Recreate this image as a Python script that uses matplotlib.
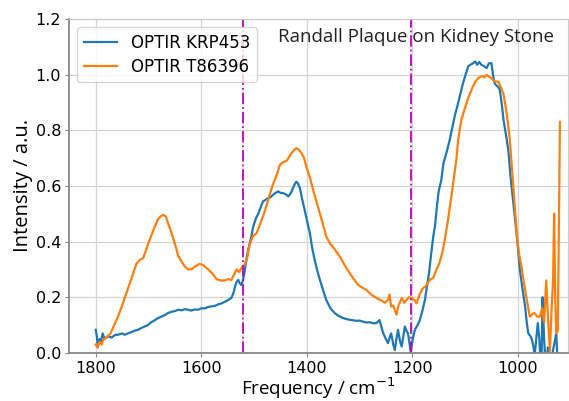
import matplotlib
matplotlib.use("Agg")
import matplotlib.pyplot as plt

# OPTIR spectra (frequency in cm^-1, intensity a.u.)
freq_krp = [1800, 1798, 1796, 1793, 1790, 1787, 1783, 1777, 1770, 1763, 1758, 1750, 1745, 1739,
            1732, 1726, 1720, 1713, 1707, 1701, 1695, 1690, 1682, 1676, 1670, 1663, 1656, 1650,
            1644, 1637, 1631, 1625, 1619, 1612, 1606, 1600, 1593, 1587, 1580, 1574, 1567, 1561,
            1555, 1549, 1543, 1539, 1536, 1533, 1530, 1527, 1524, 1521, 1518, 1514, 1511, 1505,
            1502, 1497, 1492, 1487, 1483, 1478, 1473, 1468, 1464, 1459, 1454, 1450, 1445, 1440,
            1435, 1430, 1426, 1423, 1420, 1417, 1413, 1409, 1404, 1399, 1394, 1390, 1385, 1380,
            1375, 1369, 1363, 1355, 1347, 1340, 1331, 1322, 1312, 1305, 1300, 1293, 1287, 1280,
            1274, 1268, 1262, 1258, 1255, 1250, 1246, 1242, 1240, 1236, 1233, 1230, 1227, 1223,
            1220, 1217, 1214, 1211, 1208, 1205, 1203, 1199, 1195, 1190, 1186, 1181, 1176, 1172,
            1168, 1164, 1160, 1157, 1153, 1150, 1145, 1141, 1135, 1129, 1124, 1119, 1114, 1110,
            1105, 1100, 1097, 1094, 1090, 1085, 1081, 1077, 1073, 1069, 1064, 1059, 1055, 1050,
            1047, 1044, 1040, 1037, 1034, 1030, 1027, 1022, 1018, 1014, 1009, 1005, 1001, 998,
            996, 991, 986, 983, 980, 976, 973, 970, 968, 965, 962, 959, 957, 955, 953, 950, 948,
            946, 943, 940, 937, 934, 931, 927, 924, 920]
int_krp = [0.083, 0.06, 0.02, 0.05, 0.04, 0.07, 0.05, 0.06, 0.055, 0.065, 0.065, 0.07, 0.065, 0.07,
           0.075, 0.08, 0.083, 0.09, 0.095, 0.10, 0.11, 0.115, 0.125, 0.13, 0.135, 0.143, 0.148, 0.15,
           0.155, 0.153, 0.157, 0.155, 0.152, 0.156, 0.155, 0.16, 0.16, 0.165, 0.167, 0.169, 0.175, 0.178,
           0.184, 0.19, 0.197, 0.215, 0.238, 0.255, 0.262, 0.25, 0.244, 0.26, 0.29, 0.34, 0.37, 0.418,
           0.45, 0.48, 0.50, 0.525, 0.544, 0.55, 0.556, 0.56, 0.568, 0.575, 0.58, 0.575, 0.574, 0.57,
           0.562, 0.575, 0.592, 0.605, 0.615, 0.61, 0.592, 0.555, 0.514, 0.47, 0.43, 0.38, 0.334, 0.295,
           0.262, 0.225, 0.19, 0.16, 0.143, 0.133, 0.125, 0.12, 0.117, 0.115, 0.116, 0.112, 0.109, 0.11,
           0.106, 0.107, 0.118, 0.09, 0.07, 0.05, 0.035, 0.06, 0.07, 0.03, 0.01, 0.05, 0.083, 0.04,
           0.023, 0.06, 0.095, 0.08, 0.07, 0.03, 0.005, 0.05, 0.083, 0.10, 0.115, 0.15, 0.19, 0.24,
           0.29, 0.358, 0.42, 0.454, 0.53, 0.58, 0.62, 0.68, 0.72, 0.765, 0.81, 0.855, 0.89, 0.921,
           0.96, 0.993, 1.01, 1.029, 1.035, 1.04, 1.047, 1.035, 1.045, 1.035, 1.03, 1.023, 1.04, 1.041,
           1.00, 0.969, 0.96, 0.955, 0.945, 0.89, 0.837, 0.78, 0.73, 0.64, 0.55, 0.48, 0.406, 0.34,
           0.298, 0.23, 0.166, 0.11, 0.07, 0.06, 0.047, 0.02, -0.01, 0.05, 0.107, 0.05, -0.03, -0.05, 0.2, 0.05, -0.02,
           -0.05, 0.02, -0.04, -0.02, 0.0, 0.03, 0.07, -0.05, -0.1]

freq_t86 = [1800, 1797, 1793, 1789, 1785, 1780, 1772, 1765, 1758, 1750, 1739, 1730, 1723, 1716,
            1710, 1701, 1691, 1682, 1676, 1672, 1667, 1663, 1658, 1653, 1648, 1644, 1638, 1631,
            1625, 1619, 1612, 1603, 1596, 1587, 1579, 1571, 1563, 1555, 1549, 1543, 1538, 1533,
            1528, 1524, 1518, 1513, 1508, 1502, 1495, 1489, 1483, 1476, 1470, 1465, 1461, 1455,
            1451, 1445, 1438, 1433, 1429, 1424, 1420, 1415, 1410, 1405, 1401, 1394, 1388, 1381,
            1375, 1369, 1363, 1355, 1350, 1337, 1325, 1312, 1303, 1295, 1287, 1278, 1268, 1260,
            1252, 1246, 1243, 1240, 1236, 1230, 1226, 1220, 1215, 1211, 1206, 1201, 1196, 1192,
            1186, 1180, 1174, 1167, 1160, 1154, 1149, 1143, 1138, 1132, 1126, 1121, 1116, 1113,
            1107, 1100, 1094, 1085, 1080, 1075, 1068, 1063, 1059, 1055, 1050, 1044, 1037, 1031,
            1027, 1023, 1019, 1015, 1012, 1009, 1005, 1001, 997, 993, 989, 985, 981, 977, 972,
            968, 963, 958, 954, 950, 946, 942, 939, 936, 933, 931, 929, 927, 924, 920]
int_t86 = [0.03, 0.02, 0.04, 0.03, 0.05, 0.055, 0.07, 0.10, 0.13, 0.17, 0.23, 0.28, 0.32, 0.335,
           0.34, 0.39, 0.44, 0.48, 0.492, 0.496, 0.49, 0.466, 0.44, 0.41, 0.38, 0.35, 0.33, 0.31,
           0.30, 0.30, 0.31, 0.32, 0.315, 0.30, 0.285, 0.265, 0.26, 0.26, 0.265, 0.262, 0.28, 0.30,
           0.29, 0.305, 0.316, 0.34, 0.39, 0.42, 0.43, 0.46, 0.49, 0.53, 0.57, 0.60, 0.62, 0.65,
           0.675, 0.685, 0.69, 0.705, 0.718, 0.728, 0.735, 0.73, 0.718, 0.70, 0.67, 0.63, 0.586, 0.54,
           0.50, 0.46, 0.418, 0.39, 0.38, 0.345, 0.305, 0.268, 0.245, 0.235, 0.226, 0.21, 0.197, 0.19,
           0.18, 0.19, 0.21, 0.166, 0.17, 0.137, 0.17, 0.197, 0.18, 0.19, 0.20, 0.197, 0.19, 0.178,
           0.21, 0.232, 0.24, 0.262, 0.27, 0.30, 0.32, 0.36, 0.41, 0.48, 0.56, 0.63, 0.70, 0.765,
           0.837, 0.88, 0.915, 0.957, 0.975, 0.987, 0.995, 0.99, 0.999, 0.993, 0.987, 0.975, 0.975, 0.95,
           0.93, 0.885, 0.83, 0.765, 0.69, 0.61, 0.51, 0.406, 0.35, 0.31, 0.26, 0.215, 0.17, 0.13, 0.14,
           0.143, 0.13, 0.13, 0.16, 0.11, 0.26, 0.10, 0.005, 0.15, 0.26, 0.50, 0.20, 0.07, 0.08, 0.83]

markers = [1520, 1203]  # dash-dot guide lines
xticks = [1800, 1600, 1400, 1200, 1000]
yticks = [0.0, 0.2, 0.4, 0.6, 0.8, 1.0, 1.2]


def main() -> None:
    fig = plt.figure(figsize=(5.69, 4.01), dpi=100)
    ax = fig.add_axes([0.121, 0.120, 0.877, 0.833])

    ax.plot(freq_krp, int_krp, color="#1f77b4", lw=1.6, label="OPTIR KRP453")
    ax.plot(freq_t86, int_t86, color="#ff7f0e", lw=1.6, label="OPTIR T86396")
    for m in markers:
        ax.axvline(m, color="m", ls="-.", lw=1.3)

    ax.set_xlim(1851, 905)
    ax.set_ylim(0, 1.2)
    ax.set_xticks(xticks)
    ax.set_yticks(yticks)
    ax.set_yticklabels([f"{v:.1f}" for v in yticks])
    ax.grid(True, color="#d4d4d4", lw=0.9)
    ax.set_axisbelow(True)

    ax.tick_params(labelsize=11.5, length=3, color="#888888", pad=2.5)

    ax.set_xlabel("Frequency / cm$^{-1}$", fontfamily="Open Sans", fontsize=13.5, labelpad=0)
    ax.set_ylabel("Intensity / a.u.", fontfamily="Open Sans", fontsize=14.5, labelpad=2)

    for side in ["left", "bottom"]:
        ax.spines[side].set_color("#888888")
        ax.spines[side].set_linewidth(1.3)
    for side in ["top", "right"]:
        ax.spines[side].set_color("#cccccc")

    ax.text(0.695, 0.945, "Randall Plaque on Kidney Stone", transform=ax.transAxes,
            ha="center", va="center", fontfamily="Open Sans", fontsize=13.5, color="#222222")

    leg = ax.legend(loc="upper left", bbox_to_anchor=(0.0, 1.0), fontsize=12,
                    frameon=True, handlelength=2.0, borderpad=0.4, labelspacing=0.35)
    leg.get_frame().set_edgecolor("#cccccc")

    fig.savefig("out.png", dpi=100)
    plt.close(fig)


if __name__ == "__main__":
    main()
